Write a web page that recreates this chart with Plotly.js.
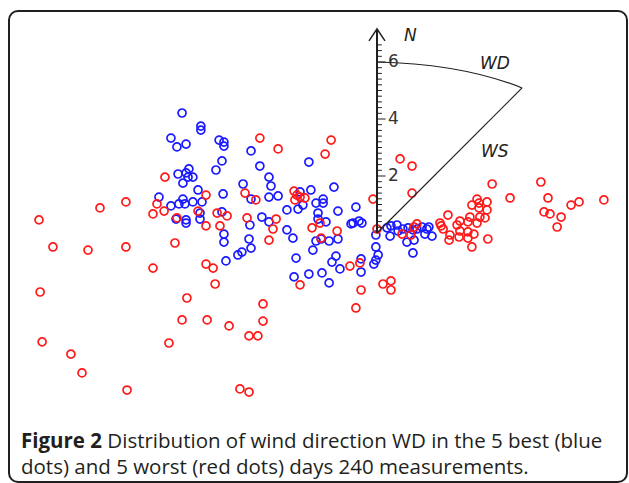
<!DOCTYPE html>
<html>
<head>
<meta charset="utf-8">
<script src="https://cdn.plot.ly/plotly-3.0.1.min.js"></script>
<style>
  html, body { margin: 0; padding: 0; background: #ffffff; }
  #wrap { position: relative; width: 629px; height: 483px; overflow: hidden; }
  #frame { position: absolute; left: 8px; top: 10px; width: 616px; height: 469px;
           border: 2px solid #231f20; border-radius: 10px; box-sizing: content-box; }
  #chart { position: absolute; left: 0; top: 0; width: 629px; height: 483px; }
</style>
</head>
<body>
<div id="wrap">
  <div id="frame"></div>
  <div id="chart"></div>
</div>
<script>
// Blue dots: 5 best days (wind vector end points, east / north components)
const blueX = [-6.84,-6.18,-6.18,-7.23,-7.02,-6.70,-5.54,-5.37,-5.37,-4.42,-5.44,-5.65,-6.60,-6.98,-6.70,-6.63,-6.46,-6.81,-4.11,-4.70,
  -2.39,-3.79,-3.72,-6.28,-5.40,-7.65,-6.81,-7.23,-6.95,-6.74,-6.46,-6.14,-4.42,-3.79,-3.47,-2.70,-2.32,-1.51,-1.89,-1.89,
  -2.14,-6.21,-7.05,-6.70,-6.70,-5.44,-4.04,-4.46,-3.79,-3.16,-2.77,-2.60,-2.07,-2.07,-1.79,-1.37,-3.16,-2.95,-2.14,-1.96,
  -1.68,-1.37,-5.37,-5.37,-4.49,-4.42,-4.74,-4.88,-5.30,-2.84,-2.25,-1.44,-1.58,-1.30,-0.56,-0.56,-2.91,-2.39,-1.93,-1.68,
  -0.74,-0.91,-0.63,-0.53,-0.84,-0.04,-0.04,0.04,-0.04,-0.11,0.35,0.49,0.70,0.46,0.74,0.91,1.09,1.26,1.40,1.58,
  1.75,1.82,1.68,1.93,1.05,1.30,1.26,-6.21];
const blueY = [4.21,3.75,3.61,3.33,3.02,3.12,3.26,3.19,3.05,2.88,2.53,2.21,2.25,2.07,2.11,1.96,1.96,1.75,2.35,1.72,
  2.49,1.96,1.65,1.51,1.37,1.26,1.19,0.95,1.02,1.02,1.09,1.09,1.19,1.26,1.30,1.44,1.51,1.61,1.19,1.05,
  1.05,0.70,0.49,0.46,0.35,0.74,0.56,0.28,0.39,0.81,0.84,0.98,0.70,0.49,0.39,0.77,0.11,-0.18,-0.28,-0.21,
  -0.28,-0.21,-0.04,-0.32,-0.21,-0.53,-0.67,-0.77,-0.98,-0.88,-0.60,-0.81,-1.02,-1.26,-0.91,-1.37,-1.54,-1.44,-1.40,-1.75,
  0.91,0.32,0.42,0.35,0.35,-0.07,-0.49,-0.77,-0.95,-1.09,0.18,0.25,0.28,-0.11,0.07,0.14,0.18,0.11,0.14,0.21,
  0.14,0.21,-0.04,-0.11,-0.32,-0.25,-0.70,0.49];

// Red dots: 5 worst days
const redX = [-11.86,-9.72,-8.81,-7.72,-7.86,-7.47,-7.02,-6.28,-11.37,-10.14,-8.81,-7.09,-7.86,-11.82,-6.67,-6.84,-11.75,-7.30,-10.74,-10.35,
  -8.77,-4.11,-1.61,-3.47,-1.82,-7.44,-6.00,-4.63,-4.25,-2.91,-2.81,-2.88,-2.70,-2.53,-5.61,-5.26,-4.56,-3.54,-6.00,-5.51,
  -3.65,-2.28,-2.00,-1.40,-1.96,-3.79,-6.00,-5.75,-5.68,-5.96,-5.19,-4.00,-4.00,-4.49,-4.18,-4.81,-4.49,-2.70,-0.95,-0.60,
  -0.56,-0.74,-0.14,0.00,0.81,1.23,1.23,4.04,5.75,4.67,6.00,6.81,7.09,7.96,5.86,6.07,6.46,6.32,2.49,3.51,
  3.33,3.58,3.86,3.58,3.86,3.26,3.61,3.79,2.91,3.19,3.51,2.21,2.25,2.32,2.81,2.56,2.91,3.19,3.40,2.53,
  2.88,3.19,3.89,3.33,1.40,1.30,1.19,0.88,0.21,0.49,0.49];
const redY = [0.46,0.88,1.09,1.02,0.67,0.77,0.53,0.77,-0.49,-0.60,-0.49,-0.35,-1.23,-2.07,-2.28,-3.05,-3.82,-3.86,-4.25,-4.91,
  -5.51,3.33,3.26,2.95,2.77,1.96,1.33,1.40,1.16,1.47,1.33,1.16,1.26,1.23,0.70,0.60,0.53,0.49,0.25,0.25,
  0.14,0.18,0.35,0.07,-0.18,-0.25,-1.09,-1.23,-1.79,-3.05,-3.26,-2.49,-3.09,-3.61,-3.61,-5.47,-5.58,-1.82,-1.16,-1.05,
  -2.00,-2.63,1.19,0.14,2.60,2.35,1.40,1.72,1.79,1.23,1.23,0.98,1.09,1.16,0.74,0.67,0.56,0.21,0.63,1.19,
  0.98,1.05,1.09,0.88,0.81,0.56,0.56,0.53,0.42,0.39,0.35,0.35,0.25,0.14,0.28,-0.07,0.07,0.04,-0.04,-0.25,
  -0.14,-0.18,-0.21,-0.49,0.32,0.21,-0.07,-0.04,-1.79,-1.68,-2.00];

// Compass axis (north) ticks and labels
const compassTicks = [2, 4, 6];
const compassTickLabels = ['2', '4', '6'];
const axisTop = 7.16;        // top of the north arrow (data units)
const minorStep = 0.2;
const wsEnd = [5.09, 5.09];  // end of the WS line (data units)
const dirLabels = ['N', 'WD', 'WS'];

const ink = '#231f20';
const shapes = [];
shapes.push({type:'line', xref:'x', yref:'y', x0:0, y0:0, x1:0, y1:axisTop, line:{color:ink, width:2}});
shapes.push({type:'path', xref:'x', yref:'y', path:'M -0.28,6.74 L 0,' + axisTop + ' L 0.28,6.74', line:{color:ink, width:1.5}});
for (let v = minorStep; v < 6.75; v += minorStep) {
  const major = compassTicks.some(t => Math.abs(t - v) < 1e-6);
  shapes.push({type:'line', xref:'x', yref:'y', x0:0, x1: major ? 0.3 : 0.17, y0:v, y1:v, line:{color:ink, width:1}});
}
shapes.push({type:'line', xref:'x', yref:'y', x0:0, y0:0, x1:wsEnd[0], y1:wsEnd[1], line:{color:ink, width:1.2}});
shapes.push({type:'path', xref:'x', yref:'y', path:'M 0,6 Q 3.0,5.93 ' + wsEnd[0] + ',' + wsEnd[1], line:{color:ink, width:1.2}});

const annotations = [];
compassTicks.forEach((t, i) => {
  annotations.push({x:0.3, y:t + 0.05, xref:'x', yref:'y', text:compassTickLabels[i], showarrow:false,
    xanchor:'left', yanchor:'middle', font:{family:'DejaVu Sans, sans-serif', size:17, color:'#333333'}});
});
const labelFont = {family:'DejaVu Sans, sans-serif', size:17, color:ink, style:'italic'};
annotations.push({x:1.16, y:6.95, xref:'x', yref:'y', text:dirLabels[0], showarrow:false, font:labelFont});
annotations.push({x:4.14, y:5.96, xref:'x', yref:'y', text:dirLabels[1], showarrow:false, font:labelFont});
annotations.push({x:4.14, y:2.87, xref:'x', yref:'y', text:dirLabels[2], showarrow:false, font:labelFont});

const capFont = {family:'Open Sans, sans-serif', size:20.5, color:ink};
annotations.push({x:19/629, y:1 - 440/483, xref:'paper', yref:'paper', xanchor:'left', yanchor:'middle', showarrow:false,
  text:'<b>Figure 2</b> Distribution of wind direction WD in the 5 best (blue', font:capFont});
annotations.push({x:19/629, y:1 - 466/483, xref:'paper', yref:'paper', xanchor:'left', yanchor:'middle', showarrow:false,
  text:'dots) and 5 worst (red dots) days 240 measurements.', font:capFont});

const traces = [
  {type:'scatter', mode:'markers', x:blueX, y:blueY, name:'best days',
   marker:{symbol:'circle-open', size:8, color:'#1a1aff', line:{width:1.7, color:'#1a1aff'}}},
  {type:'scatter', mode:'markers', x:redX, y:redY, name:'worst days',
   marker:{symbol:'circle-open', size:8, color:'#ff1a1a', line:{width:1.7, color:'#ff1a1a'}}}
];

const layout = {
  width:629, height:483,
  margin:{l:0, r:0, t:0, b:0, pad:0},
  paper_bgcolor:'rgba(0,0,0,0)', plot_bgcolor:'rgba(0,0,0,0)',
  showlegend:false,
  xaxis:{range:[-377/28.5, 252/28.5], visible:false, fixedrange:true},
  yaxis:{range:[-250/28.5, 233/28.5], visible:false, fixedrange:true},
  shapes:shapes, annotations:annotations
};

Plotly.newPlot('chart', traces, layout, {staticPlot:true, displayModeBar:false});
</script>
</body>
</html>
